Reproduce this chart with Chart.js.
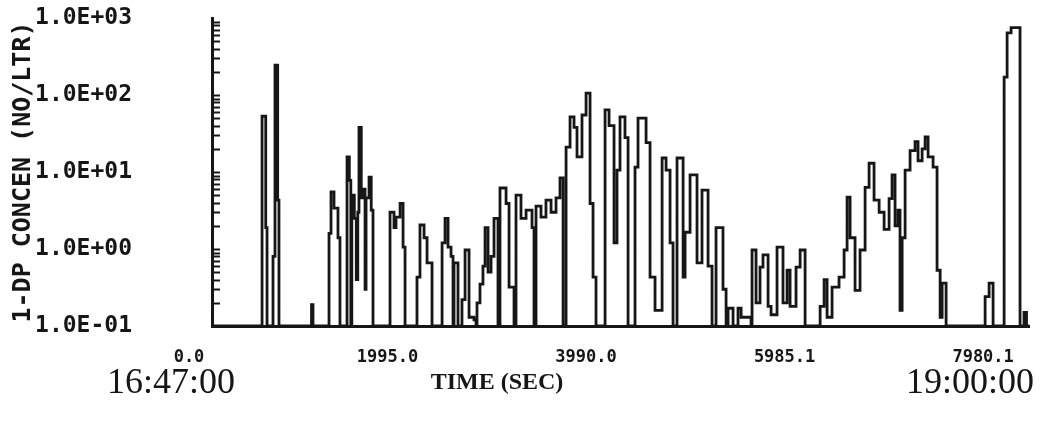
<!DOCTYPE html>
<html><head><meta charset="utf-8">
<script src="https://cdn.jsdelivr.net/npm/chart.js@4.4.1/dist/chart.umd.min.js"></script>
<style>html,body{margin:0;padding:0;background:#fff;}#wrap{width:1059px;height:423px;}</style>
</head><body><div id="wrap"><canvas id="c" width="1059" height="423"></canvas></div>
<script>
const timeSec = [0,503,540,553,613,633,660,673,1000,1015,1176,1196,1226,1266,1286,1357,1380,1395,1405,1430,1450,1465,1477,1500,1518,1538,1548,1578,1600,1618,1789,1829,1849,1890,1920,1940,2060,2090,2131,2161,2211,2312,2342,2372,2402,2422,2432,2472,2512,2543,2583,2633,2653,2663,2693,2723,2744,2774,2804,2834,2874,2894,2955,2985,3035,3055,3105,3156,3216,3236,3256,3306,3356,3407,3457,3497,3528,3558,3598,3638,3668,3718,3759,3799,3829,3859,3950,3990,4040,4070,4100,4150,4181,4251,4281,4362,4402,4452,4523,4563,4603,4633,4673,4734,4754,4804,4874,4924,4985,5025,5065,5135,5166,5186,5236,5286,5317,5417,5427,5467,5507,5537,5588,5618,5678,5738,5779,5809,5869,5910,5960,6111,6151,6181,6231,6301,6352,6382,6412,6462,6512,6563,6603,6653,6704,6754,6804,6834,6864,6894,6914,6935,6965,7015,7065,7095,7136,7166,7196,7246,7286,7317,7337,7377,7769,7809,7849,7960,7990,8030,8120,8160,8185,8210];
const concen = [0.1,53,1.9,0.1,0.8,245,4.3,0.1,0.19,0.1,1.6,5.5,3.4,1.4,0.1,15.7,7.8,0.1,5,2.5,0.4,3,38,4.6,6,0.3,4.6,8.6,3.2,0.1,3.0,1.9,2.6,3.9,1.06,0.1,0.43,2.05,1.4,0.66,0.1,1.2,2.5,1.06,0.8,0.1,0.66,0.1,0.22,0.97,0.13,0.12,0.1,0.2,0.35,0.6,1.9,0.5,0.8,2.5,0.1,6.2,3.9,0.32,0.1,5.0,2.5,3.2,1.9,0.1,3.6,2.6,4.3,3.0,4.6,8.4,0.1,21,52,38,15.7,55,106,3.9,0.43,0.1,64,40,1.2,10.6,52,28,0.1,11.6,50,24,0.43,0.16,15.2,10.6,1.2,0.1,15.2,0.43,1.65,9.2,0.66,5.8,0.6,0.1,1.9,0.3,0.1,0.17,0.1,0.17,0.13,0.1,0.97,0.2,0.58,0.84,0.18,0.14,1.06,0.2,0.53,0.18,0.58,0.97,0.1,0.18,0.4,0.13,0.32,0.43,0.97,4.7,1.4,0.29,0.97,6.3,13,4.3,3.0,1.8,4.5,9.2,2.0,3.2,0.16,1.4,10.6,19,24.7,14,20,28.5,15.7,11.6,0.53,0.13,0.36,0.1,0.24,0.36,0.1,171,640,750,0.1,0.15,0.1,0.1];
const xTickValues = [0, 1995.0, 3990.0, 5985.1, 7980.1];
const xTickLabels = ['0.0', '1995.0', '3990.0', '5985.1', '7980.1'];
const yTickValues = [0.1, 1, 10, 100, 1000];
const yTickLabels = ['1.0E-01', '1.0E+00', '1.0E+01', '1.0E+02', '1.0E+03'];
const clockLabels = ['16:47:00', '19:00:00'];
const xTitle = 'TIME (SEC)';
const yTitle = '1-DP CONCEN (NO/LTR)';

const ink = '#161616';
const decor = {
  id: 'decor',
  afterDraw(chart) {
    const {ctx, scales: {x, y}, chartArea} = chart;
    ctx.save();
    ctx.strokeStyle = ink; ctx.lineWidth = 2;
    for (let e = -1; e < 3; e++) {
      for (let m = 1; m < 10; m++) {
        const v = m * Math.pow(10, e);
        const py = Math.round(y.getPixelForValue(v)) + 0.5;
        ctx.beginPath(); ctx.moveTo(chartArea.left, py); ctx.lineTo(chartArea.left + 8, py); ctx.stroke();
      }
    }
    ctx.fillStyle = ink;
    ctx.textAlign = 'center'; ctx.textBaseline = 'middle';
    ctx.font = '36px "Liberation Serif"';
    ctx.fillText(clockLabels[0], x.getPixelForValue(xTickValues[0]) - 41, 384);
    ctx.fillText(clockLabels[1], x.getPixelForValue(xTickValues[4]) - 36, 384);
    ctx.font = 'bold 24px "Liberation Serif"';
    ctx.fillText(xTitle, chartArea.left + 285, 383);
    ctx.restore();
  }
};

new Chart(document.getElementById('c'), {
  type: 'line',
  data: {
    datasets: [{
      data: timeSec.map((t, i) => ({x: t, y: concen[i]})),
      borderColor: ink, borderWidth: 2.8, pointRadius: 0,
      stepped: true, fill: false, tension: 0
    }]
  },
  options: {
    responsive: false, animation: false, devicePixelRatio: 1,
    layout: {padding: {top: 18, right: 30, bottom: 0, left: 0}},
    plugins: {legend: {display: false}, tooltip: {enabled: false}},
    scales: {
      x: {
        type: 'linear', min: 0, max: 8210,
        afterBuildTicks: s => { s.ticks = xTickValues.map(v => ({value: v})); },
        afterFit: s => { s.height = 97; s.paddingRight = 0; s.paddingLeft = 0; },
        ticks: {
          callback: (v, i) => xTickLabels[i], autoSkip: false, maxRotation: 0,
          labelOffset: -23, padding: 21, color: ink,
          font: {family: 'DejaVu Sans Mono', weight: 'bold', size: 17}
        },
        grid: {display: false, drawTicks: false},
        border: {display: true, color: ink, width: 3}
      },
      y: {
        type: 'logarithmic', min: 0.1, max: 1000,
        afterBuildTicks: s => { s.ticks = yTickValues.map(v => ({value: v})); },
        afterFit: s => { s.width = 212; s.paddingTop = 0; s.paddingBottom = 0; },
        ticks: {
          callback: (v, i) => yTickLabels[i], autoSkip: false, padding: 80, color: ink,
          font: {family: 'DejaVu Sans Mono', weight: 'bold', size: 23}
        },
        grid: {display: false, drawTicks: false},
        border: {display: true, color: ink, width: 3},
        title: {
          display: true, text: yTitle, color: ink, padding: {top: 8, bottom: 0},
          font: {family: 'DejaVu Sans Mono', weight: 'bold', size: 25}
        }
      }
    }
  },
  plugins: [decor]
});
</script></body></html>
